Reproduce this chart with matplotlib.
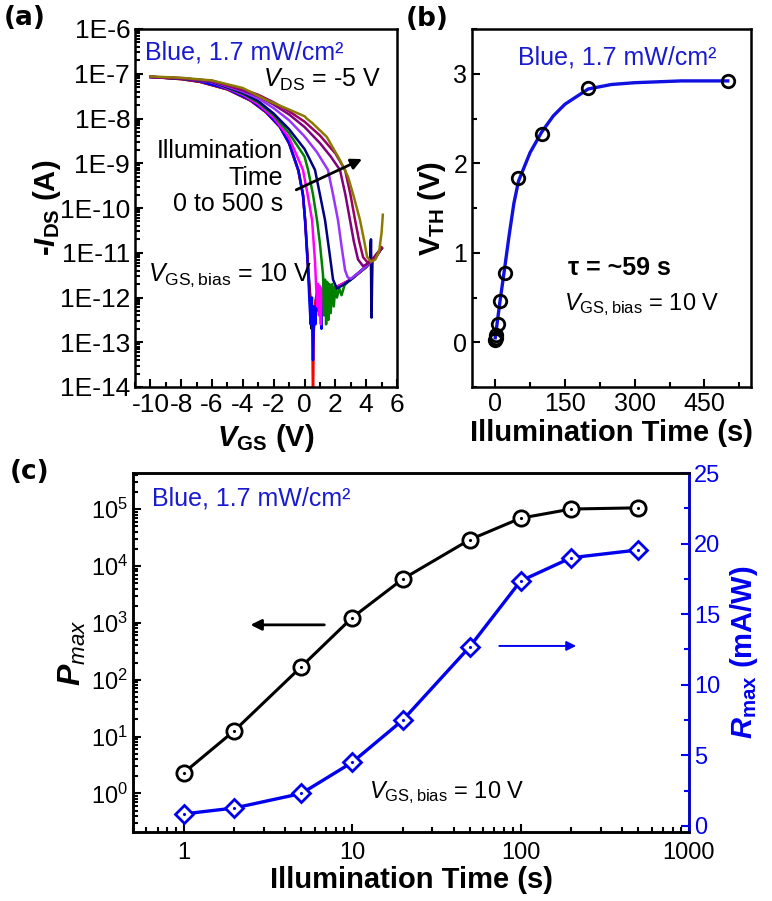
import matplotlib
matplotlib.use('Agg')
import matplotlib.pyplot as plt
import numpy as np
from matplotlib.ticker import FuncFormatter, MultipleLocator, LogLocator, NullFormatter, FixedLocator

plt.rcParams['font.family'] = ['Liberation Sans', 'DejaVu Sans']
plt.rcParams['mathtext.fontset'] = 'custom'
plt.rcParams['mathtext.rm'] = 'Liberation Sans'
plt.rcParams['mathtext.it'] = 'Liberation Sans:italic'
plt.rcParams['mathtext.bf'] = 'Liberation Sans:bold'
plt.rcParams['mathtext.bfit'] = 'Liberation Sans:bold:italic'
plt.rcParams['axes.unicode_minus'] = False

# ---- panel (a): transfer curves, -I_DS given as log10(A), one pair per illumination time
vg_0 = [-10, -8, -6.8, -5, -3.5, -2.5, -1.6, -1, -0.4, -0.1, 0.05, 0.25, 0.4, 0.46, 0.52, 0.58, 0.66, 0.75, 0.9, 1.1, 1.5, 2, 3, 4, 5]
lg_0 = [-7.07, -7.12, -7.18, -7.35, -7.6, -7.86, -8.19, -8.56, -9.17, -9.72, -10.3, -11.4, -12.1, -12.7, -12.2, -12.9, -12.3, -12.0, -11.9, -11.85, -11.8, -11.78, -11.6, -11.32, -10.9]
vg_1 = [-10, -8, -6.8, -5, -3.5, -2.5, -1.6, -1, -0.4, -0.1, 0.04, 0.24, 0.4, 0.5, 0.55, 0.6, 0.7, 0.9, 1.2, 1.6, 2, 3, 4, 5]
lg_1 = [-7.07, -7.12, -7.18, -7.35, -7.6, -7.86, -8.18, -8.55, -9.16, -9.71, -10.28, -11.4, -12.3, -12.5, -14.5, -12.6, -12.1, -11.9, -11.85, -11.8, -11.78, -11.6, -11.32, -10.9]
vg_2 = [-10, -8, -6.8, -5, -3.5, -2.5, -1.6, -1, -0.4, -0.1, 0.03, 0.23, 0.32, 0.4, 0.48, 0.55, 0.62, 0.7, 0.8, 0.9, 1.0, 1.1, 1.15, 1.2, 1.5, 2, 2.5, 3, 3.5, 4, 4.25, 4.3, 4.34, 4.38, 4.5, 5]
lg_2 = [-7.07, -7.11, -7.17, -7.34, -7.59, -7.85, -8.18, -8.55, -9.15, -9.7, -10.27, -11.39, -12.1, -12.6, -12.0, -13.4, -12.2, -12.6, -11.9, -12.3, -12.0, -12.7, -12.0, -11.85, -11.8, -11.78, -11.7, -11.6, -11.45, -11.3, -11.22, -10.75, -12.4, -11.2, -11.15, -10.9]
vg_5 = [-10, -8, -6, -4, -3, -2, -1, -0.1, 0.2, 0.49, 0.68, 0.76, 0.82, 0.88, 0.94, 1.0, 1.06, 1.12, 1.2, 1.3, 1.5, 2, 3, 4, 5]
lg_5 = [-7.07, -7.11, -7.19, -7.47, -7.68, -7.98, -8.43, -9.15, -9.7, -10.27, -11.2, -11.8, -12.2, -11.7, -12.4, -11.75, -12.6, -11.8, -12.0, -11.75, -11.8, -11.78, -11.6, -11.32, -10.9]
vg_10 = [-10, -8, -6, -4, -3, -2, -1, 0, 0.23, 0.55, 0.81, 1.0, 1.2, 1.27, 1.33, 1.4, 1.47, 1.55, 1.62, 1.7, 1.8, 1.9, 2.0, 2.1, 2.25, 2.4, 2.6, 3, 4, 5]
lg_10 = [-7.07, -7.11, -7.18, -7.45, -7.64, -7.93, -8.33, -8.85, -9.15, -9.7, -10.27, -10.8, -11.5, -12.4, -11.6, -12.6, -11.65, -12.5, -11.7, -12.35, -11.7, -12.2, -11.75, -12.0, -11.8, -11.95, -11.72, -11.6, -11.32, -10.9]
vg_20 = [-10, -8, -6, -4, -3, -2, -1, 0, 0.68, 1.0, 1.33, 1.6, 1.85, 2.1, 2.5, 3, 3.5, 4, 4.28, 4.31, 4.35, 4.4, 5]
lg_20 = [-7.07, -7.11, -7.18, -7.43, -7.61, -7.89, -8.24, -8.68, -9.15, -9.7, -10.27, -10.95, -11.6, -11.8, -11.72, -11.6, -11.45, -11.3, -11.22, -10.7, -12.45, -11.2, -10.9]
vg_50 = [-10, -8, -6, -4, -3, -2, -1, 0, 0.8, 1.52, 1.85, 2.17, 2.4, 2.63, 2.8, 3, 3.5, 4, 4.5, 5]
lg_50 = [-7.07, -7.1, -7.17, -7.4, -7.55, -7.77, -8.04, -8.4, -8.75, -9.15, -9.7, -10.27, -10.85, -11.39, -11.55, -11.58, -11.45, -11.3, -11.15, -10.9]
vg_100 = [-10, -8, -6, -4, -3, -2, -1, 0, 1, 1.7, 2.3, 2.65, 2.95, 3.2, 3.47, 3.8, 4.2, 4.6, 5]
lg_100 = [-7.07, -7.1, -7.16, -7.37, -7.5, -7.69, -7.91, -8.19, -8.55, -8.85, -9.15, -9.7, -10.27, -10.75, -11.15, -11.3, -11.22, -11.12, -10.9]
vg_200 = [-10, -8, -6, -4, -3, -2, -1, 0, 1, 2, 2.63, 2.98, 3.28, 3.55, 3.8, 4.1, 4.5, 5]
lg_200 = [-7.07, -7.1, -7.16, -7.35, -7.47, -7.64, -7.84, -8.07, -8.38, -8.78, -9.15, -9.7, -10.27, -10.75, -11.1, -11.22, -11.12, -10.88]
vg_500 = [-10, -8, -6, -4, -2.45, -1, 0.0, 0.14, 0.5, 1.44, 2.3, 2.82, 3.2, 3.6, 3.85, 4.06, 4.3, 4.6, 4.85, 5.0, 5.08]
lg_500 = [-7.06, -7.09, -7.15, -7.32, -7.59, -7.8, -7.95, -8.0, -8.1, -8.41, -8.93, -9.3, -9.75, -10.27, -10.7, -11.09, -11.2, -11.15, -10.95, -10.55, -10.15]

curves_a = [(vg_0, lg_0), (vg_1, lg_1), (vg_2, lg_2), (vg_5, lg_5), (vg_10, lg_10),
            (vg_20, lg_20), (vg_50, lg_50), (vg_100, lg_100), (vg_200, lg_200), (vg_500, lg_500)]
colors_a = ['black', 'red', '#0000ff', '#ff00ff', '#008000', '#000080', '#9933ff', '#800080', '#990066', '#8c7a00']
vgs_ticks = [-10, -8, -6, -4, -2, 0, 2, 4, 6]

# ---- panel (b): threshold voltage vs illumination time
t_b = [0, 1, 2, 5, 10, 20, 50, 100, 200, 500]
vth_b = [0.02, 0.05, 0.08, 0.2, 0.46, 0.77, 1.84, 2.33, 2.84, 2.92]
t_fit = [0, 5, 10, 20, 30, 40, 50, 75, 100, 125, 150, 200, 250, 300, 400, 500]
vth_fit = [0.05, 0.25, 0.45, 0.82, 1.2, 1.55, 1.8, 2.12, 2.35, 2.53, 2.66, 2.83, 2.88, 2.9, 2.92, 2.92]

# ---- panel (c): photosensitivity and responsivity
t_c = [1, 2, 5, 10, 20, 50, 100, 200, 500]
pmax = [2.3, 12.7, 170, 1230, 5900, 2.9e4, 6.9e4, 1.0e5, 1.05e5]
rmax = [0.85, 1.27, 2.3, 4.5, 7.5, 12.7, 17.35, 19.0, 19.55]

W, H = 772, 901
fig = plt.figure(figsize=(W / 100, H / 100), dpi=100)


def box(l, t, r, b):
    return [l / W, 1 - b / H, (r - l) / W, (b - t) / H]


def style_axis(ax, size):
    for s in ax.spines.values():
        s.set_linewidth(1.8)
    ax.tick_params(which='both', direction='in', top=False, right=False, labelsize=size, width=1.5)
    ax.tick_params(which='major', length=6)
    ax.tick_params(which='minor', length=3.5)


# (a)
axa = fig.add_axes(box(135, 29, 397, 387))
for (v, lg), c in zip(curves_a, colors_a):
    axa.plot(v, 10.0 ** np.array(lg), color=c, lw=1.8)
axa.set_yscale('log')
axa.set_xlim(-11, 6)
axa.set_ylim(1e-14, 1e-6)
axa.xaxis.set_major_locator(FixedLocator(vgs_ticks))
axa.xaxis.set_minor_locator(FixedLocator(np.arange(-11, 6)))
axa.yaxis.set_major_locator(LogLocator(base=10, numticks=20))
axa.yaxis.set_minor_locator(LogLocator(base=10, subs=np.arange(2, 10), numticks=20))
axa.yaxis.set_minor_formatter(NullFormatter())
axa.yaxis.set_major_formatter(FuncFormatter(lambda v, p: '1E%d' % round(np.log10(v))))
style_axis(axa, 19)
axa.tick_params(axis='x', pad=4)
axa.set_xlabel(r'$\mathbfit{V}_{\mathbf{GS}}$ (V)', fontsize=21, fontweight='bold', labelpad=4)
axa.set_ylabel(r'-$\mathbfit{I}_{\mathbf{DS}}$ (A)', fontsize=21, fontweight='bold', labelpad=-2)
axa.text(0.04, 0.933, 'Blue, 1.7 mW/cm²', color='#1a1ad0', fontsize=18, transform=axa.transAxes, va='center')
axa.text(0.94, 0.858, r'$\mathit{V}_{\mathrm{DS}}$ = -5 V', fontsize=18, transform=axa.transAxes, ha='right', va='center')
axa.text(0.565, 0.585, 'Illumination\nTime\n0 to 500 s', fontsize=18, transform=axa.transAxes,
         ha='right', va='center', multialignment='right', linespacing=1.15)
axa.annotate('', xy=(3.9, 10 ** -8.88), xytext=(-0.7, 10 ** -9.62),
             arrowprops=dict(arrowstyle='-|>', color='black', lw=2, mutation_scale=16))
axa.text(0.05, 0.313, r'$\mathit{V}_{\mathrm{GS,bias}}$ = 10 V', fontsize=18, transform=axa.transAxes, va='center')

# (b)
axb = fig.add_axes(box(472, 29, 751, 387))
axb.plot(t_fit, vth_fit, color='#1010e0', lw=2.4, zorder=2)
axb.plot(t_b, vth_b, 'o', mfc='none', mec='black', mew=2, ms=9, zorder=3)
axb.set_xlim(-50, 550)
axb.set_ylim(-0.5, 3.5)
axb.xaxis.set_major_locator(MultipleLocator(150))
axb.xaxis.set_minor_locator(MultipleLocator(75))
axb.yaxis.set_major_locator(MultipleLocator(1))
axb.yaxis.set_minor_locator(MultipleLocator(0.5))
style_axis(axb, 18)
axb.set_xlabel('Illumination Time (s)', fontsize=21, fontweight='bold', labelpad=2)
axb.set_ylabel(r'$\mathbf{V}_{\mathbf{TH}}$ (V)', fontsize=21, fontweight='bold', labelpad=4)
axb.text(0.165, 0.919, 'Blue, 1.7 mW/cm²', color='#1a1ad0', fontsize=18, transform=axb.transAxes, va='center')
axb.text(0.345, 0.332, 'τ = ~59 s', fontsize=18, fontweight='bold', transform=axb.transAxes, va='center')
axb.text(0.33, 0.229, r'$\mathit{V}_{\mathrm{GS,bias}}$ = 10 V', fontsize=17, transform=axb.transAxes, va='center')

# (c)
axc = fig.add_axes(box(133, 473, 689, 832))
axc.plot(t_c, pmax, '-', color='black', lw=2.2, zorder=2)
axc.plot(t_c, pmax, 'o', mfc='white', mec='black', mew=2, ms=11, zorder=3)
axc.plot(t_c, pmax, '.', color='black', ms=2.5, zorder=4)
axc.set_xscale('log')
axc.set_yscale('log')
axc.set_xlim(0.5, 1000)
axc.set_ylim(0.21, 4.3e5)
axc.yaxis.set_major_locator(LogLocator(base=10, numticks=20))
axc.yaxis.set_minor_locator(LogLocator(base=10, subs=np.arange(2, 10), numticks=20))
axc.yaxis.set_minor_formatter(NullFormatter())
axc.xaxis.set_major_locator(FixedLocator([1, 10, 100, 1000]))
axc.xaxis.set_major_formatter(FuncFormatter(lambda v, p: '%d' % v))
axc.xaxis.set_minor_formatter(NullFormatter())
style_axis(axc, 17)
axc.tick_params(axis='x', pad=7)
axc.set_xlabel('Illumination Time (s)', fontsize=21, fontweight='bold', labelpad=2)
axc.set_ylabel(r'$\mathbfit{P}_{\mathit{max}}$', fontsize=23, labelpad=2)
axc.text(0.034, 0.93, 'Blue, 1.7 mW/cm²', color='#1a1ad0', fontsize=18, transform=axc.transAxes, va='center')
axc.text(0.425, 0.111, r'$\mathit{V}_{\mathrm{GS,bias}}$ = 10 V', fontsize=17, transform=axc.transAxes, va='center')
axc.annotate('', xy=(2.4, 920), xytext=(7.1, 920),
             arrowprops=dict(arrowstyle='-|>', color='black', lw=2, mutation_scale=16))

axr = axc.twinx()
axr.plot(t_c, rmax, '-', color='#0000ee', lw=2.4, zorder=2)
axr.plot(t_c, rmax, 'D', mfc='white', mec='#0000ee', mew=2, ms=9.5, zorder=3)
axr.plot(t_c, rmax, '.', color='#0000ee', ms=2.5, zorder=4)
axr.set_ylim(-0.43, 25)
axr.yaxis.set_major_locator(MultipleLocator(5))
axr.yaxis.set_minor_locator(MultipleLocator(2.5))
for s in axr.spines.values():
    s.set_linewidth(1.8)
axr.spines['right'].set_color('#0000ee')
axr.tick_params(which='both', direction='in', labelsize=17, width=1.5, colors='#0000ee')
axr.tick_params(which='major', length=6)
axr.tick_params(which='minor', length=3.5)
axr.set_ylabel(r'$\mathbfit{R}_{\mathbf{max}}$ (mA/W)', fontsize=21, fontweight='bold', color='#0000ee', labelpad=6)
axr.annotate('', xy=(222, 12.75), xytext=(72, 12.75),
             arrowprops=dict(arrowstyle='-|>', color='#0000ee', lw=1.4, mutation_scale=14))

# panel letters
fig.text(25 / W, 1 - 18 / H, '(a)', fontsize=19, fontweight='bold', family='DejaVu Sans', ha='center', va='center')
fig.text(427 / W, 1 - 19 / H, '(b)', fontsize=19, fontweight='bold', family='DejaVu Sans', ha='center', va='center')
fig.text(30 / W, 1 - 472 / H, '(c)', fontsize=19, fontweight='bold', family='DejaVu Sans', ha='center', va='center')

fig.savefig('out.png', dpi=100)
